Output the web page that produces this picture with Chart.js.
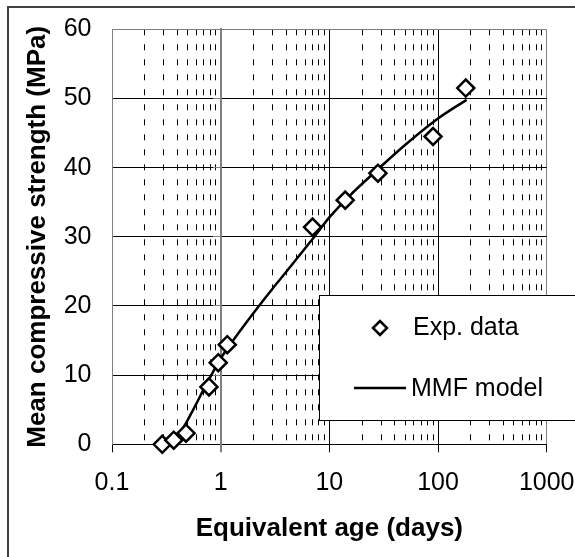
<!DOCTYPE html>
<html>
<head>
<meta charset="utf-8">
<script src="https://cdn.jsdelivr.net/npm/chart.js@4/dist/chart.umd.min.js"></script>
<style>
  html, body { margin: 0; padding: 0; background: #fff; }
  canvas { display: block; }
</style>
</head>
<body>
<canvas id="c" width="575" height="557"></canvas>
<script>
// ---- data ----
const expAge      = [0.29, 0.37, 0.48, 0.78, 0.95, 1.15, 7, 14, 28, 90, 180];
const expStrength = [0, 0.6, 1.6, 8.3, 11.8, 14.4, 31.4, 35.3, 39.2, 44.5, 51.5];

const modelAge      = [0.3, 0.37, 0.44, 0.55, 0.717, 0.84, 1.0, 1.3, 1.61, 2.22, 3, 4, 7.1, 10, 15.5, 28.2, 50, 100, 183];
const modelStrength = [0, 0.8, 2.1, 4.8, 8.3, 10.3, 12.4, 15.0, 17.0, 19.9, 22.5, 24.9, 29.8, 32.8, 36.0, 39.8, 43.3, 47.1, 49.8];

const xTickValues = [0.1,0.2,0.3,0.4,0.5,0.6,0.7,0.8,0.9,
                     1,2,3,4,5,6,7,8,9,
                     10,20,30,40,50,60,70,80,90,
                     100,200,300,400,500,600,700,800,900,1000];
const xMajorTicks = [0.1, 1, 10, 100, 1000];
const xTickLabels = ['0.1', '1', '10', '100', '1000'];
const yMin = 0, yMax = 60, yStep = 10;

const seriesNames = ['Exp. data', 'MMF model'];
const xTitle = 'Equivalent age (days)';
const yTitle = 'Mean compressive strength (MPa)';

// ---- styles ----
const FONT = "'Liberation Sans', Arial, sans-serif";
const GRAY = '#808080';

const expPoints = expAge.map((a, i) => ({x: a, y: expStrength[i]}));
const modelPoints = modelAge.map((a, i) => ({x: a, y: modelStrength[i]}));

function zeroPad(scale) {
  scale.paddingLeft = 0; scale.paddingRight = 0;
  scale.paddingTop = 0; scale.paddingBottom = 0;
}

const framePlugin = {
  id: 'frame',
  beforeDraw(chart) {
    const ctx = chart.ctx;
    ctx.save();
    ctx.fillStyle = '#fff';
    ctx.fillRect(0, 0, chart.width, chart.height);
    ctx.strokeStyle = '#404040';
    ctx.lineWidth = 2;
    ctx.beginPath();
    ctx.moveTo(chart.width + 5, 7);
    ctx.lineTo(8, 7);
    ctx.lineTo(8, chart.height + 5);
    ctx.stroke();
    ctx.restore();
  }
};

const legendPlugin = {
  id: 'boxLegend',
  afterDraw(chart) {
    const ctx = chart.ctx;
    const bx = 319.5, by = 295.5, bw = 280, bh = 125;
    ctx.save();
    ctx.fillStyle = '#fff';
    ctx.fillRect(bx, by, bw, bh);
    ctx.strokeStyle = '#000';
    ctx.lineWidth = 1;
    ctx.strokeRect(bx, by, bw, bh);
    const ds0 = chart.data.datasets[0];
    const ds1 = chart.data.datasets[1];
    // marker
    ctx.fillStyle = '#fff';
    ctx.strokeStyle = '#000';
    ctx.lineWidth = ds0.pointBorderWidth;
    ctx.beginPath();
    ctx.moveTo(373, 328); ctx.lineTo(380, 321); ctx.lineTo(387, 328); ctx.lineTo(380, 335); ctx.closePath();
    ctx.fill(); ctx.stroke();
    // line
    ctx.strokeStyle = ds1.borderColor;
    ctx.lineWidth = ds1.borderWidth;
    ctx.beginPath();
    ctx.moveTo(354, 388); ctx.lineTo(406, 388);
    ctx.stroke();
    ctx.fillStyle = '#000';
    ctx.font = '25px ' + FONT;
    ctx.textBaseline = 'middle';
    ctx.textAlign = 'left';
    ctx.fillText(ds0.label, 413, 328);
    ctx.fillText(ds1.label, 411, 389);
    ctx.restore();
  }
};

new Chart(document.getElementById('c'), {
  type: 'scatter',
  data: {
    datasets: [
      {
        label: seriesNames[0],
        data: expPoints,
        showLine: false,
        pointStyle: 'rectRot',
        pointRadius: 8.5,
        pointHoverRadius: 8.5,
        pointBorderWidth: 2.5,
        borderColor: '#000',
        backgroundColor: '#fff',
        pointBackgroundColor: '#fff',
        pointBorderColor: '#000',
        clip: false,
        order: 0
      },
      {
        label: seriesNames[1],
        data: modelPoints,
        showLine: true,
        borderColor: '#000',
        borderWidth: 2.5,
        pointRadius: 0,
        pointHoverRadius: 0,
        cubicInterpolationMode: 'monotone',
        fill: false,
        order: 1
      }
    ]
  },
  options: {
    responsive: false,
    animation: false,
    devicePixelRatio: 1,
    layout: { padding: { left: 0, top: 29.3, right: 28.3, bottom: 0 } },
    plugins: {
      legend: { display: false },
      tooltip: { enabled: false }
    },
    scales: {
      x: {
        type: 'logarithmic',
        position: 'bottom',
        min: 0.1,
        max: 1000,
        afterBuildTicks(scale) {
          scale.ticks = xTickValues.map(v => ({ value: v, major: xMajorTicks.includes(v) }));
        },
        afterFit(scale) { scale.height = 112.7; zeroPad(scale); },
        ticks: {
          autoSkip: false,
          maxRotation: 0,
          minRotation: 0,
          padding: 16,
          color: '#000',
          font: { family: FONT, size: 25 },
          callback(value) {
            const i = xMajorTicks.indexOf(value);
            return i >= 0 ? xTickLabels[i] : '';
          }
        },
        grid: {
          drawTicks: true,
          tickLength: 8,
          color(ctx) {
            if (!ctx.tick) return '#000';
            const v = ctx.tick.value;
            if (v === 1 || v === 0.1 || v === 1000) return GRAY;
            return '#000';
          },
          lineWidth(ctx) {
            if (!ctx.tick) return 1;
            return ctx.tick.value === 1 ? 2 : 1;
          },
          tickColor(ctx) {
            if (!ctx.tick) return '#000';
            return xMajorTicks.includes(ctx.tick.value) ? '#000' : 'rgba(0,0,0,0)';
          },
          tickWidth: 1
        },
        border: {
          display: true,
          color: '#000',
          width: 1,
          dash(ctx) {
            if (ctx.tick && !xMajorTicks.includes(ctx.tick.value)) return [6, 9];
            return [];
          }
        },
        title: {
          display: true,
          text: xTitle,
          color: '#000',
          font: { family: FONT, size: 26, weight: 'bold' },
          padding: { top: 0, bottom: 13 }
        }
      },
      y: {
        type: 'linear',
        position: 'left',
        min: yMin,
        max: yMax,
        afterFit(scale) { scale.width = 112; zeroPad(scale); },
        ticks: {
          stepSize: yStep,
          padding: 20.5,
          color: '#000',
          font: { family: FONT, size: 25 }
        },
        grid: {
          drawTicks: false,
          color(ctx) {
            if (ctx.tick && ctx.tick.value === yMax) return GRAY;
            return '#000';
          },
          lineWidth: 1
        },
        border: { display: true, color: GRAY, width: 1 },
        title: {
          display: true,
          text: yTitle,
          color: '#000',
          font: { family: FONT, size: 26, weight: 'bold' },
          padding: { top: 22, bottom: 0 }
        }
      },
      y2: {
        type: 'linear',
        position: { x: 1 },
        min: yMin,
        max: yMax,
        afterFit(scale) { scale.width = 0; zeroPad(scale); },
        ticks: { display: false, stepSize: yStep },
        grid: {
          drawOnChartArea: false,
          drawTicks: true,
          tickLength: 7,
          tickColor: GRAY,
          tickWidth: 1
        },
        border: { display: true, color: GRAY, width: 2 }
      }
    }
  },
  plugins: [framePlugin, legendPlugin]
});
</script>
</body>
</html>
